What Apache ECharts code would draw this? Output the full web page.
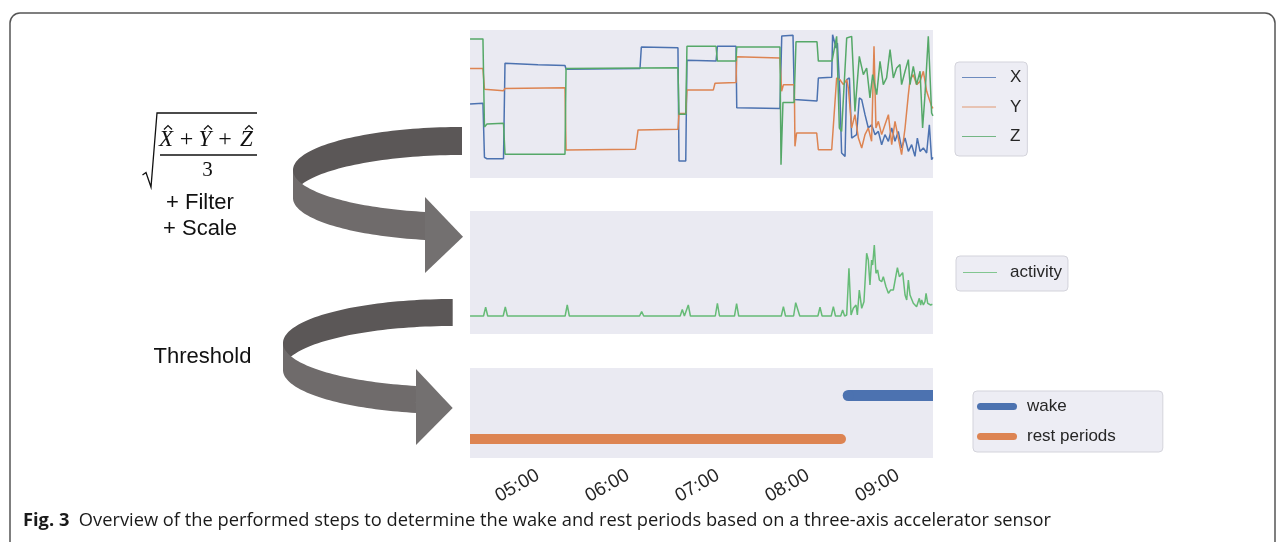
<!DOCTYPE html>
<html><head><meta charset="utf-8">
<script src="https://cdn.jsdelivr.net/npm/echarts@6/dist/echarts.min.js"></script>
<style>html,body{margin:0;padding:0;background:#fff}#c{width:1285px;height:542px}</style>
</head><body><div id="c"></div>
<script>
// time in minutes since midnight, values in arbitrary sensor units
const seriesX = [[254.7,50],[263.3,50.5],[264.3,14],[266,13],[277,13],[278,77.5],[300,76.5],[318,76],[318.7,73.5],[368,74],[368.9,88.5],[393.3,88],[394,11.5],[398.5,11.5],[399.3,79.5],[418.7,79],[419.6,89],[432,89],[432.5,47.5],[461.3,47],[462.5,96],[470,96.5],[470.9,53],[486,52],[486.9,67.6],[495.8,68],
[496.4,96.8],[498.7,87.8],[499.6,91.2],[501.3,56.3],[502.4,16.9],[504.7,14.6],[505.8,66.4],[507.6,67.6],[509.1,27],[512.4,29.3],[514.2,54.1],[515.8,52.9],[518,42.8],[520.2,33.8],[522.4,36],[524.7,29.3],[526.9,31.5],[529.1,22.5],[531.3,29.3],[533.6,24.8],[535.8,33.8],[538,24.8],[540.2,31.5],[542.4,20.3],[544.7,27],[546.9,18],[549.1,22.5],[551.3,14.6],[552.9,27],[554.7,18],[556.9,20.3],[559.1,16.9],[560.9,36],[562.4,12.4],[563.3,14]];
const seriesY = [[254.7,74],[263.3,74],[264.3,60],[277,59],[278,60.5],[318,61],[318.7,19],[365,19.5],[366.7,32.5],[393.3,33],[394,43.5],[398.5,43.5],[399.3,59.5],[416.9,59.5],[418,64],[432,64.5],[432.5,82],[461.3,81],[462.4,58.6],[463.6,63],[470.9,63],[471.3,21.4],[472.4,30.4],[485.8,30.4],[486.9,19.1],[495.8,19.1],
[496.9,18],[499.1,67.6],[501.3,66.4],[503.6,63.1],[505.8,66.4],[506.9,60.8],[509.1,33.8],[511.3,42.8],[513.6,27],[515.8,20.3],[518,29.3],[520.2,33.8],[522.4,24.8],[524,89],[525.3,33.8],[526.9,38.3],[529.1,29.3],[531.3,36],[533.6,42.8],[535.8,22.5],[538,38.3],[540.2,27],[542.4,15.8],[544.7,33.8],[546.9,56.3],[548,66.4],[550.2,69.8],[552.4,63.1],[554.7,65.3],[556.9,72.1],[559.1,58.6],[562.4,48.4],[563.3,47]];
const seriesZ = [[254.7,94],[263.3,94],[264.3,34.5],[266,36.5],[277,37],[278,16],[318,16],[318.7,74],[393.3,74.5],[394,43],[398.5,43],[399.3,89],[418.7,89],[419.6,79],[432,79],[432.5,88.5],[461.3,88.5],[462,9],[463.3,51],[470.7,51],[472,92],[486,92],[486.9,79],[496,79],
[499.1,95.7],[500.9,33.8],[502.4,31.5],[505.8,94.6],[509.1,95.7],[510.2,72.1],[511.3,45],[514.2,82.2],[516.9,69.8],[519.1,74.3],[521.3,54.1],[523.1,69.8],[525.8,56.3],[528,78.8],[530.2,63.1],[532.4,67.6],[534.7,86.7],[536.9,67.6],[539.1,74.3],[541.3,76.6],[542.4,63.1],[544.7,72.1],[546.9,80],[548,63.1],[550.2,75.5],[552.4,63.1],[554.7,72.1],[556.4,33.8],[558,56.3],[560.2,95.7],[562.4,43.9],[563.3,42]];
const activity = [[254.7,0],[263.7,0],[265.1,8.7],[266.5,0],[276.8,0],[278.2,9],[279.6,0],[318.1,0],[319.5,11],[320.9,0],[367.7,0],[369.1,4.3],[370.5,0],[394.8,0],[396.2,6.6],[397.6,0],[398.8,0],[400.2,11],[401.6,0],[418.2,0],[419.6,12.7],[421,0],[431,0],[432.4,12.3],[433.8,0],[462.2,0],[463.6,9.3],[465,0],[470.4,0],[471.8,13.3],[473.1,13.3],[474.5,0],[486.6,0],[488,8.7],[489.4,0],[495.5,0],[496.9,9.3],[498.3,0],[501.8,0],[503.1,5.9],[504.4,0],[505.8,1],[507.3,47.7],[508.7,1],[510.2,7.7],[512,11],[512.9,1],[514.2,26],[515.8,7.7],[517.3,14.3],[519.1,62.7],[520.2,56],[521.3,31],[522.4,56],[523.1,51],[524.2,71],[525.3,42.7],[526.4,46],[527.6,36],[529.1,34.3],[530.2,39.3],[532,29.3],[533.6,22.7],[535.1,26],[536.9,26],[538,27.7],[539.6,48.3],[540.9,39.3],[542,41],[543.1,43.3],[544.7,21],[545.8,16],[546.9,36],[548,21],[549.1,19.3],[550.2,12.7],[551.3,11],[552.4,9.3],[553.6,10.3],[554.2,17.7],[555.1,11],[555.8,16],[556.9,11],[558,14.3],[558.7,22.7],[559.8,12.7],[560.9,13.3],[561.8,11],[562.9,11.7],[563.3,11.5]];
const restPeriods = [[254.67,0],[502,0]];
const wakePeriods = [[506.8,1],[563.33,1]];
const tickValues = [300,360,420,480,540];
const tickLabels = ['05:00','06:00','07:00','08:00','09:00'];

const C = {blue:'#4C72B0', orange:'#DD8452', green:'#55A868', act:'#66BB77', bg:'#EAEAF2', text:'#262626'};
const SANS = '"Liberation Sans", Arial, sans-serif';
const tMin = 254.67, tMax = 563.33;

function arcPts(cx,cy,rx,ry,a0,a1,dy){const p=[];for(let i=0;i<=48;i++){const a=(a0+(a1-a0)*i/48)*Math.PI/180;p.push([cx+rx*Math.cos(a),cy+ry*Math.sin(a)+dy]);}return p;}
function band(cx,cy,rx,ry,h,a0,a1){return arcPts(cx,cy,rx,ry,a0,a1,0).concat(arcPts(cx,cy,rx,ry,a1,a0,h));}
function arrow(cx,cy,rx,ry,h,aEnd,head){
  return [
    {type:'polygon',shape:{points:band(cx,cy,rx,ry,h,-90,-180)},style:{fill:'#5b5757'}},
    {type:'polygon',shape:{points:band(cx,cy,rx,ry,h,180,aEnd)},style:{fill:'#6f6b6b'}},
    {type:'polygon',shape:{points:head},style:{fill:'#737070'}}
  ];
}
const thin = w => 'path://M0,0M0,6.4L34,6.4L34,7.6L0,7.6ZM'+w+',14';
const pill = 'path://M0,0M3.5,3.5L36.5,3.5A3.5,3.5,0,0,1,36.5,10.5L3.5,10.5A3.5,3.5,0,0,1,3.5,3.5ZM45,14';
const legendCommon = {backgroundColor:'#ededf4', borderColor:'#d3d3db', borderWidth:1, borderRadius:4, selectedMode:false, itemHeight:14,
  textStyle:{fontSize:17, fontFamily:SANS, color:C.text, lineHeight:14}};

const hat = (x) => ({type:'polyline', shape:{points:[[x-4,129.5],[x,125.5],[x+4,129.5]]}, style:{stroke:'#111', lineWidth:1.2, fill:null}});
const serif = '"Liberation Serif", "DejaVu Serif", serif';
const CAP = '"Open Sans", sans-serif';

const graphics = [
  {type:'rect', shape:{x:10,y:13,width:1265,height:600,r:10}, style:{fill:null, stroke:'#555', lineWidth:1.5}},
  {type:'polyline', shape:{points:[[142.5,175],[146,172.5],[151,187],[157,113],[257,113]]}, style:{stroke:'#111', lineWidth:1.3, fill:null}},
  {type:'text', x:166, y:139.5, style:{text:'X', font:'italic 23px '+serif, fill:'#111', align:'center', verticalAlign:'middle'}},
  {type:'text', x:186.5, y:139.5, style:{text:'+', font:'24px '+serif, fill:'#111', align:'center', verticalAlign:'middle'}},
  {type:'text', x:205, y:139.5, style:{text:'Y', font:'italic 23px '+serif, fill:'#111', align:'center', verticalAlign:'middle'}},
  {type:'text', x:225, y:139.5, style:{text:'+', font:'24px '+serif, fill:'#111', align:'center', verticalAlign:'middle'}},
  {type:'text', x:246.5, y:139.5, style:{text:'Z', font:'italic 23px '+serif, fill:'#111', align:'center', verticalAlign:'middle'}},
  hat(168), hat(208), hat(249),
  {type:'line', shape:{x1:160,y1:155,x2:257,y2:155}, style:{stroke:'#111', lineWidth:1.3}},
  {type:'text', x:207.5, y:170, style:{text:'3', font:'21px '+serif, fill:'#111', align:'center', verticalAlign:'middle'}},
  {type:'text', x:200, y:202.5, style:{text:'+ Filter', font:'22px '+SANS, fill:'#111', align:'center', verticalAlign:'middle'}},
  {type:'text', x:200, y:228.5, style:{text:'+ Scale', font:'22px '+SANS, fill:'#111', align:'center', verticalAlign:'middle'}},
  {type:'text', x:202.5, y:357, style:{text:'Threshold', font:'22px '+SANS, fill:'#111', align:'center', verticalAlign:'middle'}},
  ...arrow(462,170,169,43,28,102.6,[[425,197],[463,236.7],[425,273]]),
  ...arrow(452.7,343,169.7,44,27,102.5,[[416,369],[452.7,408],[416,445]]),
  {type:'text', x:23, y:521, style:{text:'{b|Fig. 3}  {n|Overview of the performed steps to determine the wake and rest periods based on a three-axis accelerator sensor}',
    verticalAlign:'middle', rich:{b:{fontWeight:'bold', fontSize:18.3, fontFamily:CAP, color:'#1a1a1a'}, n:{fontSize:18.3, fontFamily:CAP, color:'#1a1a1a'}}, fontSize:18.3, fontFamily:CAP, fill:'#1a1a1a'}}
];

const gridBase = {left:470, width:463, show:true, backgroundColor:C.bg, borderWidth:0, containLabel:false, outerBoundsMode:'none'};
const hiddenX = i => ({type:'value', gridIndex:i, min:tMin, max:tMax, show:false});
const line = (name, data, color, xi, extra) => Object.assign({type:'line', name, data, xAxisIndex:xi, yAxisIndex:xi, symbol:'none', color, lineStyle:{width:1.5, color}, animation:false, silent:true}, extra||{});
// thick bars: butt ends clipped at the frame edge, rounded where the period starts/ends inside the window
const roundEnd = (pts, roundIdx, size) => pts.map((p,i) => roundIdx.indexOf(i) >= 0 ? {value:p, symbol:'circle', symbolSize:size} : {value:p, symbol:'none'});

const option = {
  animation:false,
  grid:[Object.assign({top:30, height:148}, gridBase), Object.assign({top:211, height:123}, gridBase), Object.assign({top:368, height:90}, gridBase)],
  xAxis:[hiddenX(0), hiddenX(1), {type:'value', gridIndex:2, min:tMin, max:tMax,
    axisLine:{show:false}, axisTick:{show:false}, splitLine:{show:false},
    axisLabel:{customValues:tickValues, rotate:30, fontSize:19, fontFamily:SANS, color:C.text, margin:16,
      formatter:v=>{const i=tickValues.indexOf(v);return i>=0?tickLabels[i]:'';}}}],
  yAxis:[{type:'value', gridIndex:0, min:0, max:100, show:false},
         {type:'value', gridIndex:1, min:-18, max:105, show:false},
         {type:'value', gridIndex:2, min:-0.437, max:1.632, show:false}],
  legend:[
    Object.assign({}, legendCommon, {data:['X','Y','Z'], left:955, top:62, orient:'vertical', padding:[7,6,11,7], itemWidth:43, itemGap:12.5, icon:thin(43), itemStyle:{opacity:0.8}}),
    Object.assign({}, legendCommon, {data:['activity'], left:956, top:256, padding:[8,6,10,7], itemWidth:42, icon:thin(42), itemStyle:{opacity:0.8}}),
    Object.assign({}, legendCommon, {data:['wake','rest periods'], left:973, top:391, orient:'vertical', padding:[7,47,7,4], itemWidth:45, itemGap:13, icon:pill})
  ],
  series:[
    line('X', seriesX, C.blue, 0),
    line('Y', seriesY, C.orange, 0),
    line('Z', seriesZ, C.green, 0),
    line('activity', activity, C.act, 1),
    line('wake', roundEnd(wakePeriods,[0],11), C.blue, 2, {symbol:'none', showSymbol:true, itemStyle:{color:C.blue}, lineStyle:{width:11, color:C.blue, cap:'butt'}}),
    line('rest periods', roundEnd(restPeriods,[1],10), C.orange, 2, {symbol:'none', showSymbol:true, itemStyle:{color:C.orange}, lineStyle:{width:10, color:C.orange, cap:'butt'}})
  ],
  graphic:{elements:graphics}
};
const chart = echarts.init(document.getElementById('c'), null, {renderer:'canvas'});
chart.setOption(option);
</script></body></html>
